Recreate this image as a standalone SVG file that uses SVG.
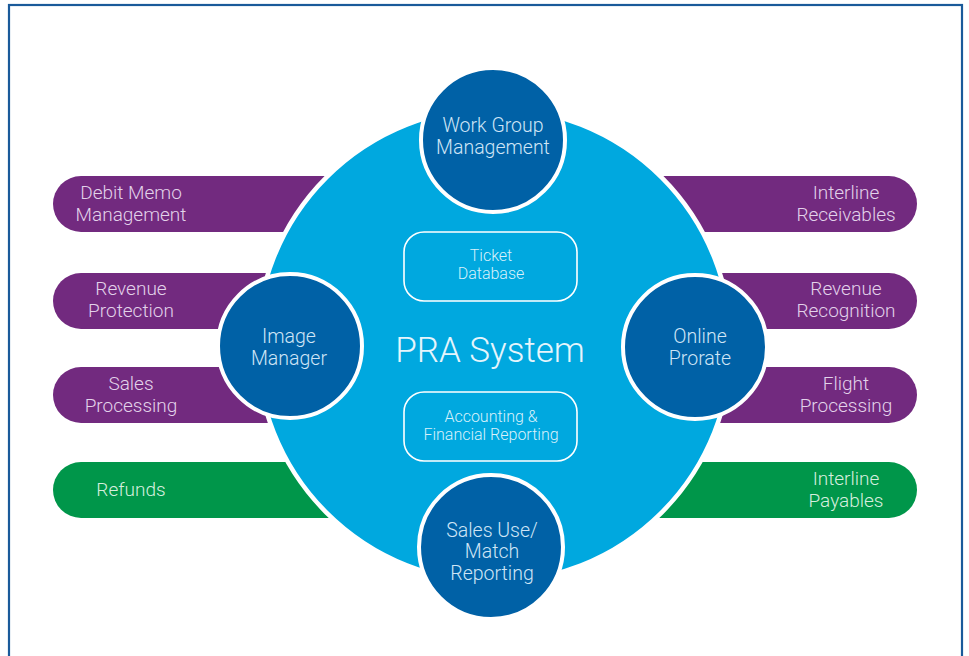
<svg xmlns="http://www.w3.org/2000/svg" width="969" height="656" viewBox="0 0 969 656">
<style>
  text { font-family: Roboto, "Open Sans", "Liberation Sans", sans-serif; font-weight: 300; text-anchor: middle; }
  .pill-p { fill: #722a7f; }
  .pill-g { fill: #00964a; }
  .pt { fill: #e2d2ea; font-size: 19px; }
  .gt { fill: #d6eedf; font-size: 19px; }
  .sc { fill: #0061a6; stroke: #ffffff; stroke-width: 4; }
  .ct { fill: #cfe5f6; font-size: 19.5px; }
  .box { fill: none; stroke: #ffffff; stroke-width: 1.6; }
  .bt { fill: #d8f1fb; font-size: 16px; }
</style>
<rect x="0" y="0" width="969" height="656" fill="#ffffff"/>
<rect id="frame" x="9" y="5" width="953" height="680" fill="none" stroke="#1a5a9a" stroke-width="2.2"/>

<g id="pill-debit-memo">
  <path class="pill-p" d="M81,176 H420 V232 H81 A28,28 0 0 1 81,176 Z"/>
  <text class="pt" x="131" y="199">Debit Memo</text>
  <text class="pt" x="131" y="221">Management</text>
</g>
<g id="pill-revenue-protection">
  <path class="pill-p" d="M81,273 H420 V329 H81 A28,28 0 0 1 81,273 Z"/>
  <text class="pt" x="131" y="295">Revenue</text>
  <text class="pt" x="131" y="317">Protection</text>
</g>
<g id="pill-sales-processing">
  <path class="pill-p" d="M81,367 H420 V423 H81 A28,28 0 0 1 81,367 Z"/>
  <text class="pt" x="131" y="390">Sales</text>
  <text class="pt" x="131" y="412">Processing</text>
</g>
<g id="pill-refunds">
  <path class="pill-g" d="M81,462 H420 V518 H81 A28,28 0 0 1 81,462 Z"/>
  <text class="gt" x="131" y="496">Refunds</text>
</g>
<g id="pill-interline-receivables">
  <path class="pill-p" d="M560,176 H889 A28,28 0 0 1 889,232 H560 Z"/>
  <text class="pt" x="846" y="199">Interline</text>
  <text class="pt" x="846" y="221">Receivables</text>
</g>
<g id="pill-revenue-recognition">
  <path class="pill-p" d="M560,273 H889 A28,28 0 0 1 889,329 H560 Z"/>
  <text class="pt" x="846" y="295">Revenue</text>
  <text class="pt" x="846" y="317">Recognition</text>
</g>
<g id="pill-flight-processing">
  <path class="pill-p" d="M560,367 H889 A28,28 0 0 1 889,423 H560 Z"/>
  <text class="pt" x="846" y="390">Flight</text>
  <text class="pt" x="846" y="412">Processing</text>
</g>
<g id="pill-interline-payables">
  <path class="pill-g" d="M560,462 H889 A28,28 0 0 1 889,518 H560 Z"/>
  <text class="gt" x="846" y="485">Interline</text>
  <text class="gt" x="846" y="507">Payables</text>
</g>

<g id="pra-system">
  <circle cx="494" cy="345" r="237" fill="#00a8df" stroke="#ffffff" stroke-width="4.5"/>
  <text x="490" y="362" fill="#e6f5fc" font-size="35px">PRA System</text>
</g>

<g id="ticket-database">
  <rect class="box" x="404" y="232" width="173" height="69" rx="20"/>
  <text class="bt" x="491" y="261">Ticket</text>
  <text class="bt" x="491" y="279">Database</text>
</g>
<g id="accounting-reporting">
  <rect class="box" x="404" y="392" width="173" height="69" rx="20"/>
  <text class="bt" x="491" y="422">Accounting &amp;</text>
  <text class="bt" x="491" y="440">Financial Reporting</text>
</g>

<g id="work-group-management">
  <circle class="sc" cx="493" cy="140" r="72"/>
  <text class="ct" x="493" y="132">Work Group</text>
  <text class="ct" x="493" y="154">Management</text>
</g>
<g id="image-manager">
  <circle class="sc" cx="290" cy="346" r="72"/>
  <text class="ct" x="289" y="343">Image</text>
  <text class="ct" x="289" y="365">Manager</text>
</g>
<g id="online-prorate">
  <circle class="sc" cx="695" cy="347" r="72"/>
  <text class="ct" x="700" y="343">Online</text>
  <text class="ct" x="700" y="365">Prorate</text>
</g>
<g id="sales-use-match-reporting">
  <circle class="sc" cx="491" cy="547" r="72"/>
  <text class="ct" x="492" y="537">Sales Use/</text>
  <text class="ct" x="492" y="558">Match</text>
  <text class="ct" x="492" y="580">Reporting</text>
</g>
</svg>
